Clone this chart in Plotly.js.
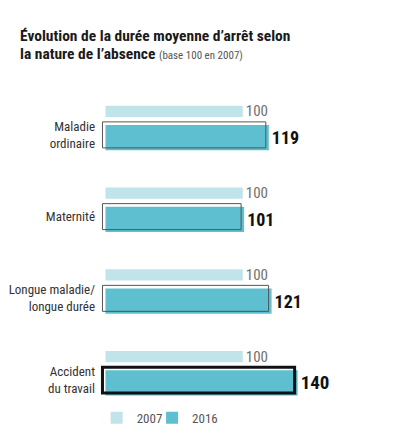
<!DOCTYPE html>
<html>
<head>
<meta charset="utf-8">
<script src="https://cdn.plot.ly/plotly-3.0.1.min.js"></script>
<style>
  html, body { margin: 0; padding: 0; background: #fff; }
  #chart { width: 400px; height: 445px; }
</style>
</head>
<body>
<div id="chart"></div>
<script>
// durée moyenne d'arrêt, base 100 en 2007
const categories = [
  "Maladie<br>ordinaire",
  "Maternité",
  "Longue maladie/<br>longue durée",
  "Accident<br>du travail",
];
const values2007 = [100, 100, 100, 100];
const values2016 = [119, 101, 121, 140];

const FONT = '"Roboto Condensed", "Open Sans", sans-serif';
const light = "#c0e4ea";
const teal = "#5dbfcf";

// 2016 labels: bigger for the last one
const sizes2016 = values2016.map((v, i) => (i === values2016.length - 1 ? 19 : 18));
const lineCol = values2016.map((v, i) => (i === values2016.length - 1 ? "#111" : "#555"));
const lineW = values2016.map((v, i) => (i === values2016.length - 1 ? 3 : 1));

var data = [
  {
    name: "2007",
    type: "bar",
    orientation: "h",
    y: categories,
    x: values2007,
    offset: -0.355,
    width: 0.135,
    marker: { color: light, line: { width: 0 } },
    text: values2007.map(String),
    textposition: "outside",
    constraintext: "none",
    cliponaxis: false,
    textfont: { family: FONT, size: 15, color: "#707070" },
    hoverinfo: "skip",
    legend: "legend",
  },
  {
    name: "2016",
    type: "bar",
    orientation: "h",
    y: categories,
    x: values2016,
    offset: -0.122,
    width: 0.31,
    marker: { color: teal, line: { width: 0 } },
    text: values2016.map((v) => "<b>" + v + "</b>"),
    textposition: "outside",
    constraintext: "none",
    cliponaxis: false,
    textfont: { family: FONT, size: sizes2016, color: "#111" },
    hoverinfo: "skip",
    legend: "legend2",
  },
  {
    // outline drawn a bit up-left of the fill (shadow look)
    name: "2016 contour",
    type: "bar",
    orientation: "h",
    y: categories,
    x: values2016,
    base: -2.2,
    offset: -0.159,
    width: 0.318,
    marker: { color: "rgba(0,0,0,0)", line: { color: lineCol, width: lineW } },
    showlegend: false,
    hoverinfo: "skip",
  },
];

var legendStyle = {
  orientation: "h",
  xanchor: "left",
  y: 0.01,
  yanchor: "middle",
  bgcolor: "rgba(0,0,0,0)",
  font: { family: FONT, size: 13, color: "#555" },
};

var layout = {
  width: 400,
  height: 445,
  barmode: "overlay",
  paper_bgcolor: "#fff",
  plot_bgcolor: "#fff",
  margin: { l: 100, r: 20, t: 94, b: 24 },
  font: { family: FONT, color: "#333" },
  annotations: [
    {
      text: "<b>Évolution de la durée moyenne d’arrêt selon</b>",
      xref: "paper", yref: "paper",
      x: -0.293, xanchor: "left",
      y: 1.144, yanchor: "bottom",
      showarrow: false,
      font: { family: FONT, size: 15.5, color: "#1a1a1a" },
    },
    {
      text: "<b>la nature de l’absence</b> <span style='font-size:11px;color:#555'>(base 100 en 2007)</span>",
      xref: "paper", yref: "paper",
      x: -0.293, xanchor: "left",
      y: 1.089, yanchor: "bottom",
      showarrow: false,
      font: { family: FONT, size: 15.5, color: "#1a1a1a" },
    },
  ],
  xaxis: {
    range: [-4, 200],
    visible: false,
    fixedrange: true,
  },
  yaxis: {
    type: "category",
    categoryorder: "array",
    categoryarray: categories,
    range: [3.5, -0.5],
    showgrid: false,
    zeroline: false,
    showline: false,
    ticks: "",
    ticklabelstandoff: 4,
    tickfont: { family: FONT, size: 13, color: "#333" },
    fixedrange: true,
  },
  showlegend: true,
  legend: Object.assign({}, legendStyle, { x: -0.012 }),
  legend2: Object.assign({}, legendStyle, { x: 0.186 }),
  hovermode: false,
};

Plotly.newPlot("chart", data, layout, { displayModeBar: false, staticPlot: true });
</script>
</body>
</html>
